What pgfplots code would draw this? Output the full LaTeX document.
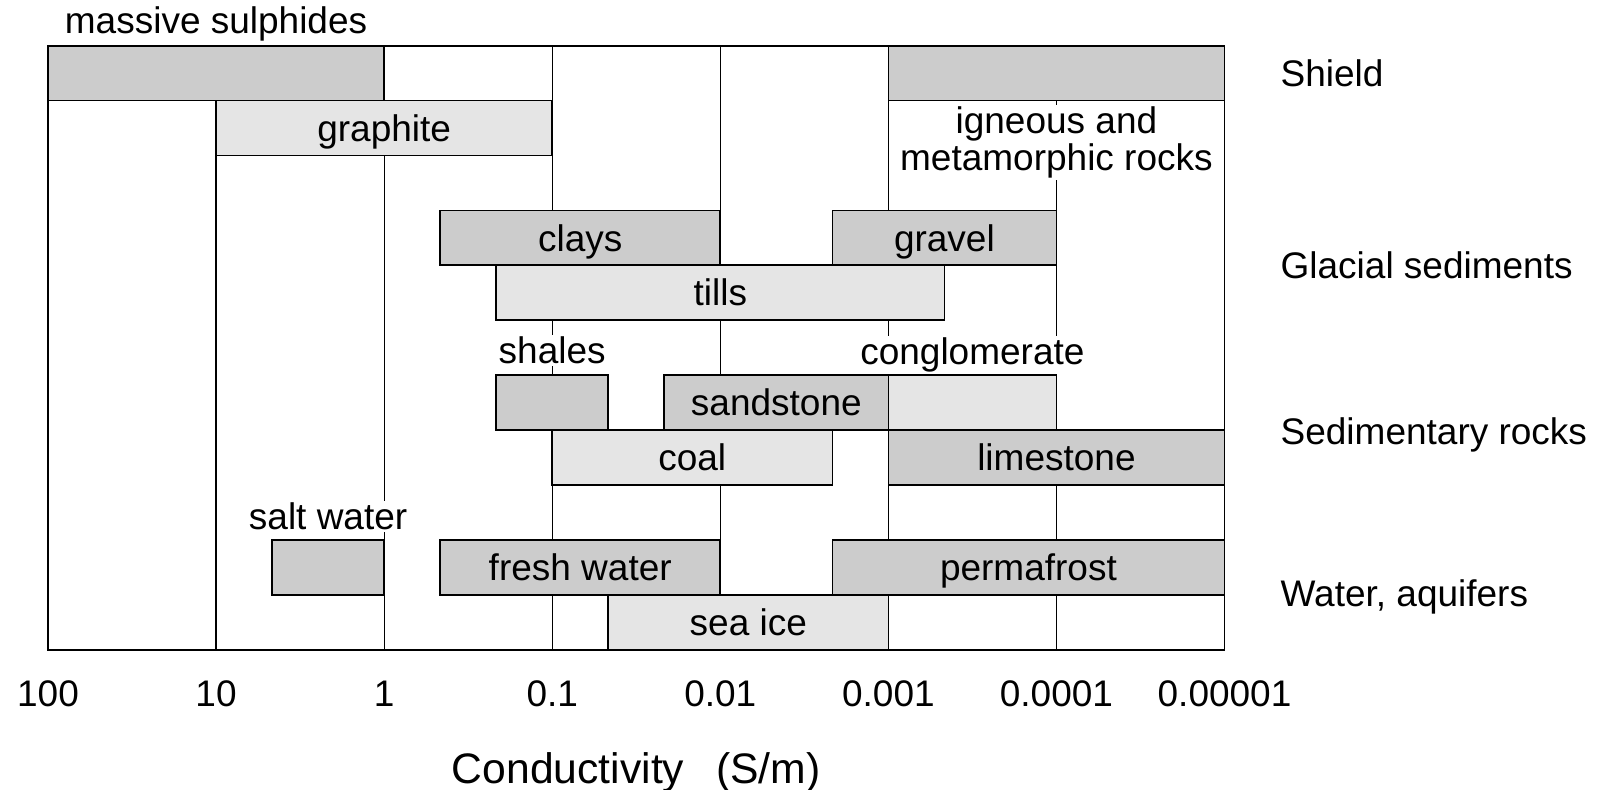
\documentclass[border=0pt]{standalone}
\usepackage{fontspec}
\setmainfont{Liberation Sans}
\usepackage{pgfplots}
\pgfplotsset{compat=1.18}
\definecolor{dk}{RGB}{204,204,204}
\definecolor{lt}{RGB}{229,229,229}
\begin{document}
\fontsize{11.1}{13.3}\selectfont
\begin{tikzpicture}[x=1pt,y=1pt,
  lbl/.style={anchor=base, inner sep=0pt},
  wl/.style={anchor=base, fill=white, inner sep=0.6pt}]
\useasboundingbox (-14.4,-42.09) rectangle (466.2,194.91);
\begin{axis}[
  at={(0pt,0pt)}, anchor=south west, scale only axis,
  width=352.95pt, height=181.2pt,
  xmin=-2, xmax=5, ymin=0, ymax=11, y dir=reverse,
  xtick={-2,-1,0,1,2,3,4,5},
  xticklabels={100,10,1,0.1,0.01,0.001,0.0001,0.00001},
  ytick=\empty, major tick length=0pt,
  xmajorgrids, major grid style={black, line width=0.35pt},
  axis line style={line width=0.5pt},
  xticklabel style={anchor=base, yshift=-16.9pt},
  xlabel={Conductivity\hspace{0.75em}(S/m)},
  xlabel style={at={(axis cs:1.5,11)}, anchor=base, yshift=-40.1pt,
                font=\fontsize{12.8}{15}\selectfont},
  clip=false,
  every axis plot/.append style={draw=black, line width=0.5pt, mark=none},
]
% Shield
\addplot[fill=dk] coordinates {(-2,0) (0,0) (0,1) (-2,1)} -- cycle;      % massive sulphides
\addplot[fill=dk] coordinates {(3,0) (5,0) (5,1) (3,1)} -- cycle;        % igneous and metamorphic
\addplot[fill=lt] coordinates {(-1,1) (1,1) (1,2) (-1,2)} -- cycle;      % graphite
% Glacial sediments
\addplot[fill=dk] coordinates {(0.3333,3) (2,3) (2,4) (0.3333,4)} -- cycle;           % clays
\addplot[fill=dk] coordinates {(2.6667,3) (4,3) (4,4) (2.6667,4)} -- cycle;           % gravel
\addplot[fill=lt] coordinates {(0.6667,4) (3.3333,4) (3.3333,5) (0.6667,5)} -- cycle; % tills
% Sedimentary rocks
\addplot[fill=dk] coordinates {(0.6667,6) (1.3333,6) (1.3333,7) (0.6667,7)} -- cycle; % shales
\addplot[fill=dk] coordinates {(1.6667,6) (3,6) (3,7) (1.6667,7)} -- cycle;           % sandstone
\addplot[fill=lt] coordinates {(3,6) (4,6) (4,7) (3,7)} -- cycle;                     % conglomerate
\addplot[fill=lt] coordinates {(1,7) (2.6667,7) (2.6667,8) (1,8)} -- cycle;           % coal
\addplot[fill=dk] coordinates {(3,7) (5,7) (5,8) (3,8)} -- cycle;                     % limestone
% Water, aquifers
\addplot[fill=dk] coordinates {(-0.6667,9) (0,9) (0,10) (-0.6667,10)} -- cycle;       % salt water
\addplot[fill=dk] coordinates {(0.3333,9) (2,9) (2,10) (0.3333,10)} -- cycle;         % fresh water
\addplot[fill=dk] coordinates {(2.6667,9) (5,9) (5,10) (2.6667,10)} -- cycle;         % permafrost
\addplot[fill=lt] coordinates {(1.3333,10) (3,10) (3,11) (1.3333,11)} -- cycle;       % sea ice

% labels
\node[lbl] at (axis cs:-1,-0.226) {massive sulphides};
\node[wl] at (axis cs:4,1.6) {igneous and};
\node[wl] at (axis cs:4,2.27) {metamorphic rocks};
\node[lbl] at (axis cs:0,1.74) {graphite};
\node[lbl] at (axis cs:1.1667,3.74) {clays};
\node[lbl] at (axis cs:3.3333,3.74) {gravel};
\node[lbl] at (axis cs:2,4.74) {tills};
\node[wl] at (axis cs:1,5.79) {shales};
\node[wl] at (axis cs:3.5,5.81) {conglomerate};
\node[lbl] at (axis cs:2.3333,6.74) {sandstone};
\node[lbl] at (axis cs:1.8333,7.74) {coal};
\node[lbl] at (axis cs:4,7.74) {limestone};
\node[wl] at (axis cs:-0.3333,8.82) {salt water};
\node[lbl] at (axis cs:1.1667,9.74) {fresh water};
\node[lbl] at (axis cs:3.8333,9.74) {permafrost};
\node[lbl] at (axis cs:2.1667,10.74) {sea ice};
% group labels
\node[anchor=base west, inner sep=0pt] at (axis cs:5.33,0.747) {Shield};
\node[anchor=base west, inner sep=0pt] at (axis cs:5.33,4.237) {Glacial sediments};
\node[anchor=base west, inner sep=0pt] at (axis cs:5.33,7.27) {Sedimentary rocks};
\node[anchor=base west, inner sep=0pt] at (axis cs:5.33,10.22) {Water, aquifers};
\end{axis}
\end{tikzpicture}
\end{document}
